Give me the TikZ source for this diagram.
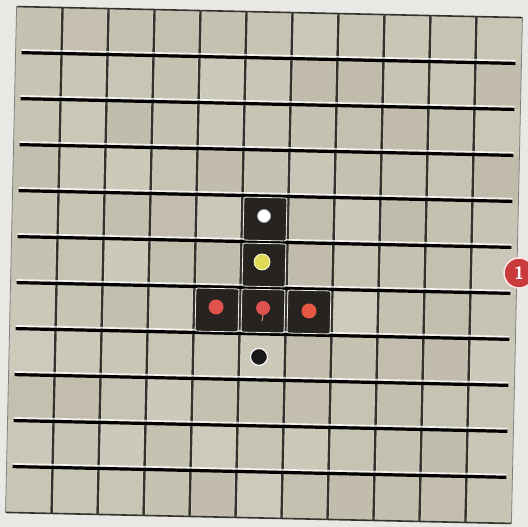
\documentclass[tikz,border=0pt]{standalone}
\definecolor{paper}{HTML}{E8E8E5}
\definecolor{tileA}{HTML}{D1CEBF}
\definecolor{tileB}{HTML}{BAB5A3}
\definecolor{ink}{HTML}{27231F}
\definecolor{gline}{HTML}{34322D}
\definecolor{reddot}{HTML}{E0524E}
\definecolor{yellowdot}{HTML}{E0DA58}
\definecolor{badgered}{HTML}{C83A3B}
\tikzset{
  tile/.style={fill=tileA!#1!tileB},
  vline/.style={gline,line width=2.4},
  vhalo/.style={white,opacity=0.3,line width=3.8},
  hline/.style={black,line width=3.2},
  hhalo/.style={white,opacity=0.8,line width=1.6},
  painted/.style={fill=ink,draw=white!85!gray,line width=0.8,rounded corners=2},
  dot/.style={circle,inner sep=0,minimum size=#1},
  badge/.style={circle,fill=badgered,draw=white!90!red,line width=1.5,minimum size=30,inner sep=0,text=white,font=\sffamily\bfseries\fontsize{18}{18}\selectfont}
}
\begin{document}
\begin{tikzpicture}[x=1pt,y=-1pt]
\useasboundingbox (0,0) rectangle (528,527);
\fill[paper] (0,0) rectangle (528,527);
\begin{scope}[shift={(264,265)},rotate=-1.25]
  \pgfmathsetseed{7}
  \foreach \c in {0,...,10}{
    \foreach \r in {0,...,10}{
      \pgfmathsetmacro{\s}{int(55+30*rand)}
      \fill[tile=\s] ({-253+46*\c},{-253+46*\r}) rectangle +(46,46);
    }
  }
  % vertical grid lines
  \foreach \i in {1,...,10}{
    \draw[vhalo] ({-253+46*\i},-253) -- ({-253+46*\i},253);
    \draw[vline] ({-253+46*\i},-253) -- ({-253+46*\i},253);
  }
  % horizontal grid lines
  \foreach \i in {1,...,10}{
    \draw[hhalo] (-247,{-253+46*\i-2.7}) -- (247,{-253+46*\i-2.7});
    \draw[hline] (-247,{-253+46*\i}) -- (247,{-253+46*\i});
  }
  % border
  \draw[gline,line width=1.6] (-253,-253) -- (253,-253);
  \draw[gline,line width=1.6] (-253,253) -- (253,253);
  \draw[gray,line width=0.8] (-253,-253) -- (-253,253);
  \draw[gray,line width=0.8] (253,-253) -- (253,253);
  % painted cells
  \foreach \c/\r in {5/4,5/5,4/6,5/6,6/6}{
    \fill[painted] ({-253+46*\c+1.5},{-253+46*\r+1.5}) rectangle +(43,43);
  }
  % dots
  \node[dot=13,fill=white,draw=gray!60,line width=0.6] (dwhite) at (-1,-49) {};
  \node[dot=16,fill=yellowdot,draw=white!90!yellow,line width=0.8] (dyellow) at (-2,-3) {};
  \node[dot=15,fill=reddot] (dredl) at (-47,43) {};
  \node[dot=14,fill=reddot] (dredm) at (0,43) {};
  \draw[reddot!70!white,line width=1] (dredm.south) -- ++(-1,6);
  \node[dot=15,fill=reddot!85!orange] (dredr) at (46,45) {};
  \node[dot=17,fill=black!90,draw=white,line width=1.2] (dblack) at (-3,92) {};
\end{scope}
\node[badge] (badge) at (519,273) {1};
\end{tikzpicture}
\end{document}
